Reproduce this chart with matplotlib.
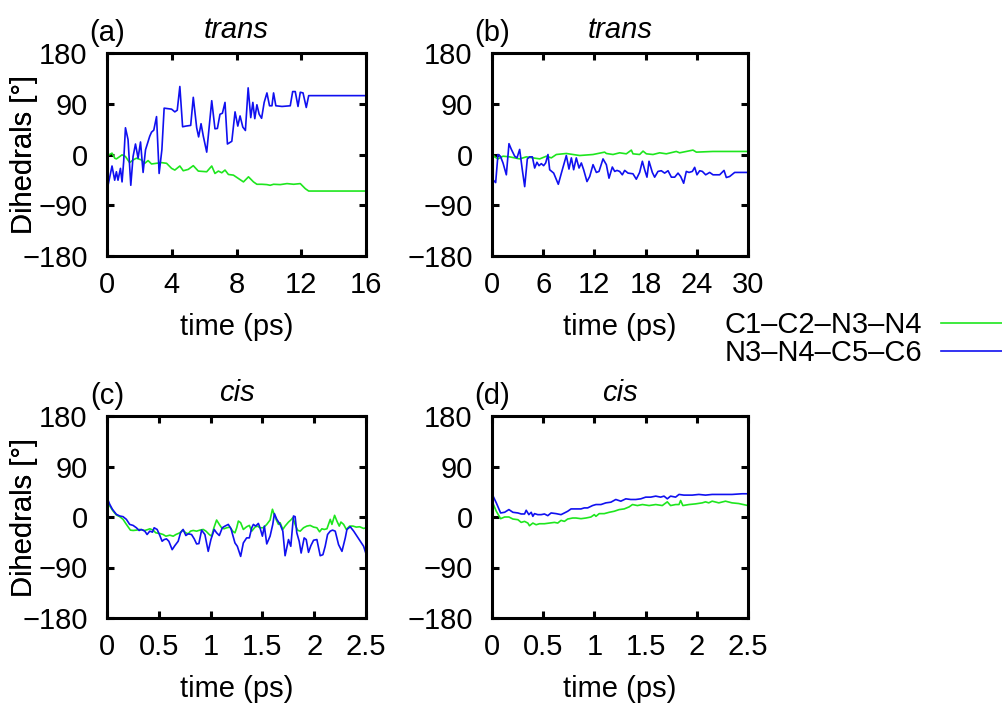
import matplotlib
matplotlib.use("Agg")
import matplotlib.pyplot as plt

plt.rcParams['font.family'] = ['Liberation Sans', 'DejaVu Sans']
plt.rcParams['font.size'] = 21

# ---------------- data ----------------
series_labels = ["C1\u2013C2\u2013N3\u2013N4", "N3\u2013N4\u2013C5\u2013C6"]
panel_tags = ["(a)", "(b)", "(c)", "(d)"]
panel_titles = ["trans", "trans", "cis", "cis"]
xlims = [(0, 16), (0, 30), (0, 2.5), (0, 2.5)]
xticks_a = [0, 4, 8, 12, 16]
xticks_b = [0, 6, 12, 18, 24, 30]
xticks_cd = [0, 0.5, 1, 1.5, 2, 2.5]
xticklabels_cd = ["0", "0.5", "1", "1.5", "2", "2.5"]
yticks = [-180, -90, 0, 90, 180]

# (a) trans
ta_green = [0, 0.12, 0.31, 0.48, 0.58, 0.79, 0.93, 1.14, 1.40, 1.61, 1.82, 2.13, 2.33, 2.54,
            2.75, 3.06, 3.37, 3.68, 3.99, 4.19, 4.50, 4.71, 5.02, 5.33, 5.64, 6.16, 6.47,
            6.67, 6.88, 7.09, 7.29, 7.50, 7.81, 8.12, 8.43, 8.74, 9.05, 9.26, 9.57, 9.88,
            10.08, 10.29, 10.70, 11.12, 11.53, 11.94, 12.25, 12.46, 16]
va_green = [-3.6, -0.6, 2.4, -6.6, -7.8, -3.6, -0.6, -3.6, -14.4, -9.6, -6.6, -9.6, -15.6,
            -10.8, -16.8, -15.6, -14.4, -15.6, -24.6, -27.6, -20.4, -28.8, -26.4, -19.8,
            -29.4, -30.6, -20.4, -33.6, -29.4, -32.4, -27.6, -35.4, -36.6, -42.6, -48.6,
            -39.6, -48.6, -52.8, -52.8, -53.4, -54.6, -52.8, -53.4, -51.6, -52.8, -51.6,
            -60.6, -64.8, -64.8]
ta_blue = [0, 0.31, 0.475, 0.58, 0.68, 0.83, 0.93, 1.03, 1.14, 1.30, 1.47, 1.61, 1.76, 1.92,
           2.07, 2.23, 2.38, 2.64, 2.75, 2.89, 3.06, 3.22, 3.39, 3.53, 3.99, 4.19, 4.34,
           4.50, 4.67, 4.88, 5.17, 5.33, 5.54, 5.66, 5.81, 5.95, 6.16, 6.47, 6.67, 6.82,
           6.98, 7.13, 7.29, 7.44, 7.71, 7.91, 8.08, 8.22, 8.39, 8.55, 8.72, 8.88, 9.01,
           9.13, 9.26, 9.40, 9.55, 9.71, 9.88, 10.04, 10.19, 10.29, 10.43, 10.81, 11.32,
           11.47, 11.63, 11.80, 11.94, 12.11, 12.31, 12.46, 16]
va_blue = [-63.6, -20.4, -45.6, -30.6, -45.6, -24.6, -48.6, -12.6, 47.4, 26.4, -54.6, -3.6,
           18.6, -6.6, 22.2, -31.8, 8.4, 32.4, 39.6, 43.2, 67.2, -33.6, 8.4, 82.2, 80.4,
           75.6, 78.6, 120.6, 49.2, 50.4, 51.6, 101.4, 47.4, 31.2, 54.6, 32.4, 4.2, 95.4,
           45.6, 46.2, 71.4, 73.2, 92.4, 18.6, 23.4, 75.6, 50.4, 68.4, 48.6, 42.6, 118.2,
           65.4, 92.4, 63.6, 88.2, 71.4, 64.2, 92.4, 109.2, 86.4, 86.4, 109.2, 86.4, 85.2,
           86.4, 111.6, 111.6, 85.2, 110.4, 109.2, 83.4, 104.4, 104.4]

# (b) trans
tb_green = [0, 0.31, 0.70, 1.29, 2.07, 2.66, 3.24, 4.02, 4.80, 5.59, 6.37, 6.95, 7.54, 8.71,
            9.49, 10.27, 11.84, 13.20, 13.40, 14.18, 14.96, 15.74, 16.33, 16.52, 17.30,
            17.70, 18.09, 18.87, 19.65, 20.43, 21.60, 21.99, 23.55, 23.95, 25.90, 27.85, 30]
vb_green = [3, -4.2, -7.8, -3, -4.2, -6, -7.8, -4.2, -6, -7.8, -3, -6, 0, 1.8, 0, -1.8, 0,
            4.2, 1.8, 0, 3, 1.2, 7.8, 1.2, 0, 6, 1.2, 0, 3, 1.2, 5.4, 3, 7.8, 4.2, 5.4, 5.4, 5.4]
tb_blue = [0, 0.12, 0.43, 0.70, 0.98, 1.29, 1.68, 1.99, 2.27, 2.66, 2.93, 3.24, 3.55, 3.83,
           4.14, 4.41, 4.73, 5.0, 5.27, 5.51, 5.78, 6.05, 6.29, 6.56, 6.76, 7.23, 7.77, 8.13,
           8.71, 9.02, 9.30, 9.57, 9.88, 10.20, 10.47, 10.74, 11.13, 11.45, 11.84, 12.23,
           12.54, 13.01, 13.40, 13.71, 14.10, 14.38, 14.65, 14.96, 15.27, 15.55, 15.94,
           16.52, 16.91, 17.30, 17.62, 17.89, 18.16, 18.40, 18.79, 19.06, 19.45, 19.84,
           20.23, 20.63, 21.02, 21.41, 21.80, 22.11, 22.46, 22.77, 23.09, 23.48, 23.75,
           24.02, 24.34, 24.65, 25.04, 25.51, 25.90, 26.68, 27.19, 27.46, 27.85, 28.44, 30]
vb_blue = [-27, -45, -49.8, 0, -3, -15, -36, 19.2, 9, -3, -6, 9, -27, -57, -7.8, -4.2, -4.2,
           -24, -13.8, -19.8, -16.2, -19.8, -15, 0, -27, -33, -52.8, -33, -1.8, -25.8, -6,
           -27, -6, -24, -15, -27, -48, -39, -18, -31.8, -30, -7.8, -18, -42, -22.2, -30,
           -28.2, -30, -36, -28.2, -33, -34.2, -43.8, -31.8, -12, -27, -40.2, -12, -31.8,
           -40.2, -30, -28.8, -33, -28.8, -40.2, -40.2, -33, -39, -51, -30, -31.8, -30,
           -22.8, -36, -28.8, -30, -36, -31.8, -36, -36, -28.2, -40.8, -39, -31.8, -31.8]

# (c) cis
tc_green = [0, 0.026, 0.058, 0.090, 0.123, 0.155, 0.187, 0.226, 0.252, 0.284, 0.316, 0.365,
            0.397, 0.413, 0.445, 0.471, 0.510, 0.542, 0.568, 0.606, 0.639, 0.665, 0.703,
            0.729, 0.761, 0.784, 0.806, 0.832, 0.865, 0.897, 0.929, 0.955, 0.987, 1.010,
            1.032, 1.058, 1.084, 1.106, 1.129, 1.155, 1.187, 1.213, 1.235, 1.252, 1.268,
            1.290, 1.316, 1.348, 1.374, 1.397, 1.429, 1.452, 1.477, 1.510, 1.542, 1.574,
            1.597, 1.613, 1.632, 1.655, 1.671, 1.697, 1.719, 1.752, 1.774, 1.794, 1.816,
            1.839, 1.865, 1.897, 1.929, 1.961, 1.994, 2.026, 2.052, 2.074, 2.097, 2.123,
            2.155, 2.171, 2.197, 2.219, 2.242, 2.258, 2.284, 2.310, 2.342, 2.374, 2.406,
            2.439, 2.477, 2.5]
vc_green = [31.8, 19.8, 10.8, 3.6, 0.6, -4.2, -13.2, -23.4, -24, -23.4, -22.2, -24, -22.2,
            -21, -23.4, -28.2, -29.4, -31.2, -34.2, -32.4, -34.2, -31.2, -28.2, -23.4, -28.2,
            -30, -25.2, -24, -25.2, -23.4, -22.2, -25.2, -31.2, -34.2, -19.2, -5.4, -13.2,
            -19.2, -21, -19.2, -18, -25.2, -28.2, -19.2, -7.2, -10.2, -22.2, -17.4, -15,
            -25.2, -18, -16.2, -19.2, -19.2, -13.2, -5.4, 13.8, 4.8, -4.2, -13.2, -10.2,
            -22.2, -16.2, -9, -5.4, -1.2, -13.2, -23.4, -25.2, -19.2, -16.2, -15, -18, -19.2,
            -26.4, -21, -22.2, -21, -4.2, -13.2, 3, -7.2, -16.2, -9, -13.2, -22.2, -16.2,
            -16.2, -18, -17.4, -20.4, -19.2]
tc_blue = [0, 0.026, 0.052, 0.090, 0.123, 0.155, 0.187, 0.219, 0.252, 0.284, 0.310, 0.332,
           0.365, 0.387, 0.413, 0.439, 0.455, 0.484, 0.510, 0.532, 0.552, 0.574, 0.597,
           0.629, 0.655, 0.687, 0.710, 0.735, 0.761, 0.784, 0.816, 0.842, 0.865, 0.887,
           0.913, 0.945, 0.977, 1.003, 1.035, 1.058, 1.084, 1.113, 1.139, 1.171, 1.197,
           1.235, 1.258, 1.290, 1.316, 1.348, 1.374, 1.397, 1.413, 1.435, 1.461, 1.477, 1.5,
           1.519, 1.542, 1.574, 1.6, 1.616, 1.639, 1.671, 1.697, 1.719, 1.752, 1.774, 1.8,
           1.816, 1.832, 1.855, 1.874, 1.903, 1.923, 1.945, 1.968, 1.994, 2.026, 2.058,
           2.084, 2.106, 2.129, 2.155, 2.177, 2.203, 2.235, 2.268, 2.3, 2.316, 2.348, 2.381,
           2.413, 2.445, 2.477, 2.5]
vc_blue = [34.8, 22.8, 13.8, 4.8, 1.8, 0.6, -4.2, -13.2, -15, -19.2, -24, -22.2, -25.2, -31.2,
           -25.2, -27, -19.2, -22.2, -33, -43.2, -40.2, -39, -43.2, -58.2, -51, -43.2, -28.2,
           -22.2, -33, -30, -31.2, -39, -48, -47.4, -23.4, -31.2, -61.2, -40.2, -22.2, -28.2,
           -33, -19.2, -16.2, -13.2, -21, -46.2, -52.2, -70.2, -46.2, -37.2, -37.2, -19.2,
           -13.2, -16.2, -11.4, -19.2, -34.2, -16.2, -48, -34.2, -13.2, 6, -4.2, -13.2, -25.2,
           -69, -40.2, -52.2, 1.8, 0.6, -28.2, -43.2, -64.2, -37.2, -40.2, -63, -51, -41.4,
           -40.2, -69, -67.2, -52.2, -31.2, -25.2, -23.4, -25.2, -49.2, -61.2, -37.2, -22.2,
           -17.4, -25.2, -34.2, -43.2, -52.2, -65.4]

# (d) cis
td_green = [0, 0.042, 0.084, 0.123, 0.165, 0.204, 0.253, 0.285, 0.318, 0.350, 0.366, 0.399,
            0.431, 0.464, 0.512, 0.561, 0.610, 0.642, 0.674, 0.707, 0.739, 0.788, 0.820,
            0.869, 0.918, 0.966, 0.999, 1.015, 1.047, 1.096, 1.145, 1.193, 1.242, 1.291,
            1.339, 1.372, 1.420, 1.469, 1.534, 1.599, 1.663, 1.712, 1.744, 1.793, 1.826,
            1.842, 1.864, 1.923, 1.988, 2.053, 2.085, 2.117, 2.150, 2.215, 2.280, 2.344,
            2.409, 2.5]
vd_green = [28.2, 10.2, -3, 0, 0, -3.6, -4.8, -9.6, -7.8, -10.8, -15.6, -10.8, -13.8, -12,
            -12, -10.8, -9.6, -10.8, -6, -7.8, -3.6, -1.8, -1.8, -3, -1.8, 0, 4.2, 1.2, 6, 6,
            8.4, 10.2, 13.2, 14.4, 18, 22.2, 20.4, 22.2, 20.4, 22.2, 20.4, 27, 20.4, 22.2,
            22.2, 29.4, 20.4, 22.2, 23.4, 25.2, 27, 25.2, 28.2, 25.2, 28.2, 25.2, 24, 20.4]
td_blue = [0, 0.042, 0.084, 0.123, 0.165, 0.204, 0.253, 0.285, 0.318, 0.334, 0.360, 0.383,
           0.399, 0.415, 0.447, 0.480, 0.512, 0.545, 0.577, 0.626, 0.674, 0.707, 0.739,
           0.772, 0.820, 0.869, 0.901, 0.934, 0.982, 1.015, 1.064, 1.112, 1.161, 1.209,
           1.258, 1.307, 1.355, 1.404, 1.453, 1.501, 1.550, 1.599, 1.647, 1.680, 1.712,
           1.744, 1.793, 1.826, 1.874, 1.955, 2.020, 2.085, 2.150, 2.247, 2.344, 2.442, 2.5]
vd_blue = [41.4, 25.2, 7.2, 8.4, 13.2, 8.4, 7.2, 5.4, 5.4, 12, 4.2, 8.4, 1.2, 6, 4.2, 4.2, 5.4,
           2.4, 7.2, 6, 4.2, 7.2, 10.2, 14.4, 14.4, 14.4, 16.2, 16.2, 20.4, 22.2, 22.2, 25.2,
           26.4, 31.2, 28.2, 32.4, 31.2, 31.2, 32.4, 35.4, 35.4, 37.2, 35.4, 37.2, 32.4, 37.2,
           35.4, 40.2, 39, 39, 40.2, 39, 40.2, 40.2, 40.2, 41.4, 41.4]

green_t = [ta_green, tb_green, tc_green, td_green]
green_v = [va_green, vb_green, vc_green, vd_green]
blue_t = [ta_blue, tb_blue, tc_blue, td_blue]
blue_v = [va_blue, vb_blue, vc_blue, vd_blue]

GREEN = "#1ee61e"
BLUE = "#1010f0"
FS = 21

W, H = 1002, 706
fig = plt.figure(figsize=(W / 100, H / 100), dpi=100)

# axes boxes in pixels: left, right, top, bottom
boxes = [(107, 366, 53, 256), (492, 748, 53, 256), (107, 366, 416, 618), (492, 748, 416, 618)]
xtick_sets = [(xticks_a, None), (xticks_b, None), (xticks_cd, xticklabels_cd), (xticks_cd, xticklabels_cd)]

lines = []
for i, (l, r, t, b) in enumerate(boxes):
    ax = fig.add_axes([l / W, 1 - b / H, (r - l) / W, (b - t) / H])
    lg, = ax.plot(green_t[i], green_v[i], color=GREEN, lw=1.2)
    lb, = ax.plot(blue_t[i], blue_v[i], color=BLUE, lw=1.2)
    if i == 0:
        lines = [lg, lb]
    ax.set_xlim(*xlims[i])
    ax.set_ylim(-180, 180)
    ax.set_yticks(yticks)
    ticks, labels = xtick_sets[i]
    ax.set_xticks(ticks)
    if labels is not None:
        ax.set_xticklabels(labels)
    for s in ax.spines.values():
        s.set_linewidth(2.2)
    ax.tick_params(direction='in', length=5, width=2.2, top=True, right=True,
                   labelsize=FS)
    ax.tick_params(axis='y', pad=14)
    ax.tick_params(axis='x', pad=11)
    hpx = b - t
    wpx = r - l
    ax.set_xlabel("time (ps)", fontsize=FS, va='center')
    ax.xaxis.set_label_coords(0.5, -71 / hpx, transform=ax.transAxes)
    ax.set_ylabel("Dihedrals [°]", fontsize=FS, va='center')
    ax.yaxis.set_label_coords((24 - l) / wpx, 0.5, transform=ax.transAxes)
    ax.text(0.5, 1 + 15 / hpx, panel_titles[i], transform=ax.transAxes,
            fontsize=FS, style='italic', ha='center', va='baseline')
    ax.text(0.0, 1 + 12 / hpx, panel_tags[i], transform=ax.transAxes,
            fontsize=FS, ha='center', va='baseline')

fig.legend(lines, series_labels, loc='center right', bbox_to_anchor=(1.0, 1 - 339 / H),
           frameon=False, markerfirst=False, fontsize=FS, handlelength=2.1,
           handletextpad=0.65, labelspacing=0.0, borderpad=0, borderaxespad=0)

fig.savefig("out.png", dpi=100)
